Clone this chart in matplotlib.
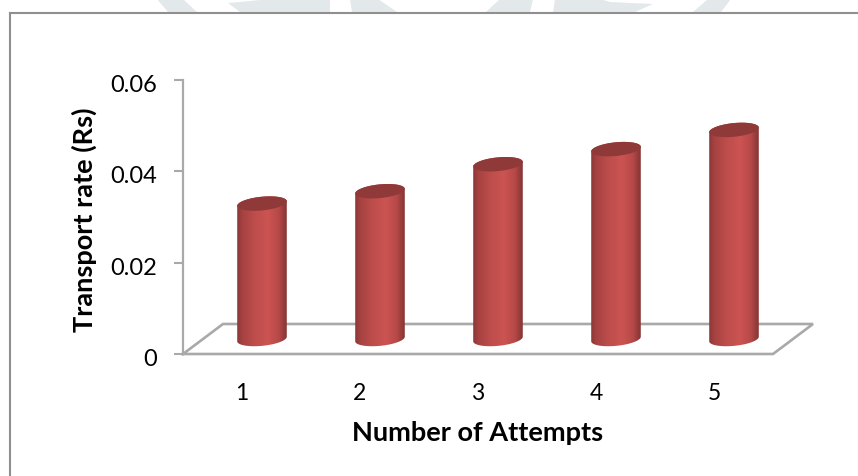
import numpy as np
import matplotlib
matplotlib.use("Agg")
import matplotlib.pyplot as plt
from matplotlib.colors import LinearSegmentedColormap
from matplotlib.patches import Polygon
from matplotlib.path import Path
from matplotlib.patches import PathPatch
from matplotlib.transforms import ScaledTranslation

plt.rcParams["font.family"] = ["Lato", "DejaVu Sans"]

# Data
attempts = [1, 2, 3, 4, 5]
transport_rate = [0.0296, 0.0323, 0.0382, 0.0415, 0.0457]
y_ticks = [0, 0.02, 0.04, 0.06]
y_tick_labels = ["0", "0.02", "0.04", "0.06"]

W, H = 858, 477
fig = plt.figure(figsize=(W / 100, H / 100), dpi=100, facecolor="white")
ax = fig.add_axes([183 / W, (H - 355) / H, 590 / W, 274.5 / H])
ax.set_xlim(0.5, 5.5)
ax.set_ylim(0, 0.06)
ax.patch.set_alpha(0)

AXIS_GREY = "#a9a9a9"

# Depth of the 3-D floor, in data units
depth_x = 40 / 118
depth_y = 0.00656
half_w = 0.21
cap_b = 0.00150      # minor radius of the cylinder ends
cap_tilt = 0.00050   # slant of the ends, right side higher

for side in ("top", "right", "bottom"):
    ax.spines[side].set_visible(False)
ax.spines["left"].set_color(AXIS_GREY)
ax.spines["left"].set_linewidth(1.6)

ax.set_xticks(attempts)
ax.set_xticklabels([str(a) for a in attempts], fontsize=16.5, color="black")
ax.set_yticks(y_ticks)
ax.set_yticklabels(y_tick_labels, fontsize=17, color="black")
ax.tick_params(axis="x", length=0, pad=20.5)
ax.tick_params(axis="y", length=6.5, width=1.5, color=AXIS_GREY, pad=12)

# Nudge the value labels just below their tick marks
nudge = ScaledTranslation(0, -2 / 72, fig.dpi_scale_trans)
for label in ax.get_yticklabels():
    label.set_transform(label.get_transform() + nudge)

# Floor parallelogram
x0, x1 = ax.get_xlim()
floor_x = [x0, x1, x1 + depth_x, x0 + depth_x, x0]
floor_y = [0, 0, depth_y, depth_y, 0]
ax.plot(floor_x, floor_y, color=AXIS_GREY, lw=1.9, clip_on=False, zorder=1,
        solid_joinstyle="miter")

# Cylinder shading across the width
shade = LinearSegmentedColormap.from_list(
    "cylinder",
    [(0.00, "#8a3736"), (0.10, "#a54241"), (0.35, "#bd4d4b"),
     (0.62, "#cc5452"), (0.84, "#b54948"), (0.95, "#933b3a"), (1.00, "#843534")],
)
gradient = np.linspace(0, 1, 256).reshape(1, -1)


def end_curve(cx, cy, t):
    return cx + half_w * np.cos(t), cy + cap_b * np.sin(t) + cap_tilt * np.cos(t)


for a, v in zip(attempts, transport_rate):
    cx = a + depth_x / 2
    base = depth_y / 2
    top = base + v

    t_low = np.linspace(np.pi, 2 * np.pi, 60)
    t_up = np.linspace(0, np.pi, 60)
    bx, by = end_curve(cx, base, t_low)
    tx, ty = end_curve(cx, top, t_up)
    body = np.column_stack([np.r_[bx, tx], np.r_[by, ty]])
    outline = PathPatch(Path(np.vstack([body, body[0]]), closed=True),
                        transform=ax.transData, fc="none", ec="none")
    ax.add_patch(outline)

    im = ax.imshow(gradient, cmap=shade, aspect="auto", zorder=3,
                   extent=[cx - half_w, cx + half_w, base - 0.004, top + 0.004],
                   clip_on=True)
    im.set_clip_path(outline)

    t_all = np.linspace(0, 2 * np.pi, 120)
    cx_top, cy_top = end_curve(cx, top, t_all)
    ax.add_patch(Polygon(np.column_stack([cx_top, cy_top]), closed=True,
                         fc="#8f3a39", ec="none", zorder=4))

ax.set_xlim(0.5, 5.5)
ax.set_ylim(0, 0.06)

# Axis titles
fig.text(478 / W, 1 - 433 / H, "Number of Attempts", ha="center", va="center",
         fontsize=19.5, fontweight="bold", color="black")
fig.text(84 / W, 1 - 220 / H, "Transport rate (Rs)", ha="center", va="center",
         rotation=90, fontsize=19.5, fontweight="bold", color="black")


def px(points):
    return [(x / W, 1 - y / H) for x, y in points]


# Pale page artwork above the chart box
page_art = [
    [(157, 0), (168, 13), (197, 13), (183, 0)],
    [(228, 4), (240, 13), (330, 13), (330, 0), (270, 0), (240, 3)],
    [(350, 0), (352, 13), (397, 13), (378, 0)],
    [(486, 13), (500, 0), (533, 0), (530, 13)],
    [(555, 0), (553, 13), (635, 13), (653, 5), (610, 3), (600, 0)],
    [(693, 13), (708, 0), (731, 0), (721, 13)],
]
for shape in page_art:
    fig.add_artist(Polygon(px(shape), closed=True, transform=fig.transFigure,
                           fc="#e3e8ea", ec="none", zorder=0))

# Chart box: only the top and left edges fall inside the page
fig.add_artist(plt.Line2D([9.5 / W, 1], [1 - 13.5 / H, 1 - 13.5 / H],
                          color="#8f8f8f", lw=1.5, zorder=2))
fig.add_artist(plt.Line2D([9.5 / W, 9.5 / W], [1 - 13.5 / H, 0],
                          color="#8f8f8f", lw=1.5, zorder=2))

fig.savefig("out.png", dpi=100)
